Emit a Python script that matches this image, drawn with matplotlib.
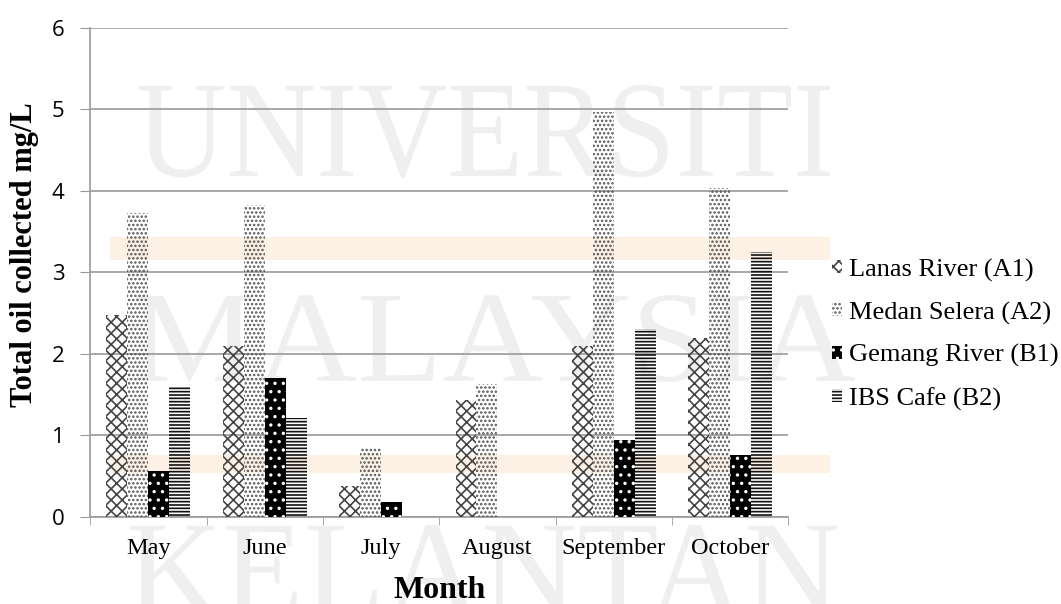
import numpy as np
import matplotlib
matplotlib.use('Agg')
import matplotlib.pyplot as plt
from matplotlib.textpath import TextPath
from matplotlib.patches import PathPatch, Rectangle
from matplotlib.font_manager import FontProperties
from matplotlib.transforms import Affine2D

months = ['May', 'June', 'July', 'August', 'September', 'October']
lanas = [2.48, 2.10, 0.38, 1.44, 2.10, 2.19]
medan = [3.73, 3.83, 0.86, 1.63, 4.97, 4.03]
gemang = [0.57, 1.71, 0.18, 0.0, 0.95, 0.76]
ibs = [1.61, 1.22, 0.0, 0.0, 2.30, 3.25]
labels = ['Lanas River (A1)', 'Medan Selera (A2)', 'Gemang River (B1)', 'IBS Cafe (B2)']

plt.rcParams['hatch.linewidth'] = 1.2
serif = 'Liberation Serif'

fig = plt.figure(figsize=(10.61, 6.04), dpi=100)

# background watermark, in pixel coords
bg = fig.add_axes([0, 0, 1, 1], zorder=-1)
bg.set_xlim(0, 1061)
bg.set_ylim(604, 0)
bg.axis('off')
wm = [('UNIVERSITI', 139, 830, 85, 178), ('MALAYSIA', 136, 855, 295, 382), ('KELANTAN', 130, 837, 525, 615)]
for word, x0, x1, top, base in wm:
    tp = TextPath((0, 0), word, size=100, prop=FontProperties(family=serif))
    bb = tp.get_extents()
    tr = Affine2D().translate(-bb.x0, -bb.y0).scale((x1 - x0) / bb.width, -(base - top) / bb.height).translate(x0, base)
    bg.add_patch(PathPatch(tr.transform_path(tp), facecolor='#efefef', edgecolor='none'))
bg.add_patch(Rectangle((110, 237), 720, 23, facecolor='#fdf1e5', edgecolor='none'))
bg.add_patch(Rectangle((110, 455), 720, 18, facecolor='#fdf1e5', edgecolor='none'))

ax = fig.add_axes([0.085, 0.144, 0.658, 0.81], zorder=1)
ax.patch.set_alpha(0)

x = np.arange(len(months))
w = 0.18
series = [
    (lanas, dict(facecolor='none', edgecolor='#444444', hatch='xxx')),
    (medan, dict(facecolor='none', edgecolor='#555555', hatch='....')),
    (gemang, dict(facecolor='black', edgecolor='white', hatch='..')),
    (ibs, dict(facecolor='none', edgecolor='#111111', hatch='-----')),
]
handles = []
for i, (vals, st) in enumerate(series):
    b = ax.bar(x + (i - 1.5) * w, vals, w, linewidth=0, zorder=3, label=labels[i], **st)
    handles.append(b)

ax.set_xlim(-0.5, 5.5)
ax.set_ylim(0, 6)
ax.set_yticks(range(7))
ax.grid(axis='y', color='#9a9a9a', linewidth=1.2, zorder=1)
ax.set_axisbelow(True)
ax.set_xticks(x)
ax.set_xticklabels(months, fontsize=17.5, family=serif)
ax.set_xticks(np.arange(-0.5, 6.0, 1), minor=True)
ax.tick_params(axis='x', which='major', length=0, pad=15)
ax.tick_params(axis='x', which='minor', length=6, color='#9a9a9a')
ax.tick_params(axis='y', length=7.5, color='#9a9a9a', labelsize=16, pad=11)
for lab in ax.get_yticklabels():
    lab.set_family('Open Sans')
for s in ['top', 'right']:
    ax.spines[s].set_visible(False)
for s in ['left', 'bottom']:
    ax.spines[s].set_color('#9a9a9a')
    ax.spines[s].set_linewidth(1.2)

ax.set_ylabel('Total oil collected mg/L', fontsize=22, family=serif, fontweight='bold')
ax.yaxis.set_label_coords(-0.074, 0.536)
ax.set_xlabel('Month', fontsize=23, family=serif, fontweight='bold', labelpad=12)

ax.legend(handles=handles, loc='center left', bbox_to_anchor=(0.784, 0.446),
          bbox_transform=fig.transFigure, frameon=False, prop={'family': serif, 'size': 19},
          handlelength=0.4, handleheight=0.4, handletextpad=0.25, labelspacing=0.75,
          borderpad=0, borderaxespad=0)

fig.savefig('out.png', dpi=100)
